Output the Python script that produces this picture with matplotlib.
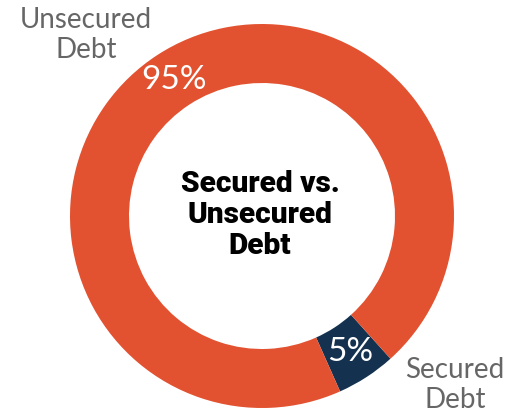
import matplotlib
matplotlib.use('Agg')
import matplotlib.pyplot as plt

# 有担保与无担保债务占比
labels = ['Secured\nDebt', 'Unsecured\nDebt']
shares = [5, 95]
colors = ['#14324F', '#E25230']

fig = plt.figure(figsize=(5.10, 4.12), dpi=100)
ax = fig.add_axes([0, 0, 1, 1])

wedges, texts, autotexts = ax.pie(
    shares, colors=colors, startangle=-66, counterclock=True,
    center=(262, 196), radius=192, frame=True,
    wedgeprops=dict(width=59, linewidth=0),
    autopct=lambda p: '%d%%' % round(p), pctdistance=0.845,
)
for t in autotexts:
    t.set_color('white')
    t.set_fontsize(24)
    t.set_fontfamily(['Lato', 'DejaVu Sans'])
    t.set_fontweight('normal')

# 外部标签
ax.text(86, 377, labels[1], ha='center', va='center', fontsize=20,
        color='#666666', family=['Lato', 'DejaVu Sans'],
        linespacing=1.15)
ax.text(455, 27, labels[0], ha='center', va='center', fontsize=20,
        color='#666666', family=['Lato', 'DejaVu Sans'],
        linespacing=1.15)

# 中心标题
ax.text(260, 197, 'Secured vs.\nUnsecured\nDebt', ha='center', va='center',
        fontsize=21.5, fontweight=900, family=['Roboto', 'DejaVu Sans'],
        color='black', linespacing=1.12)

ax.set_xlim(0, 510)
ax.set_ylim(0, 412)
ax.set_aspect('equal')
ax.axis('off')

fig.savefig('out.png', dpi=100)
